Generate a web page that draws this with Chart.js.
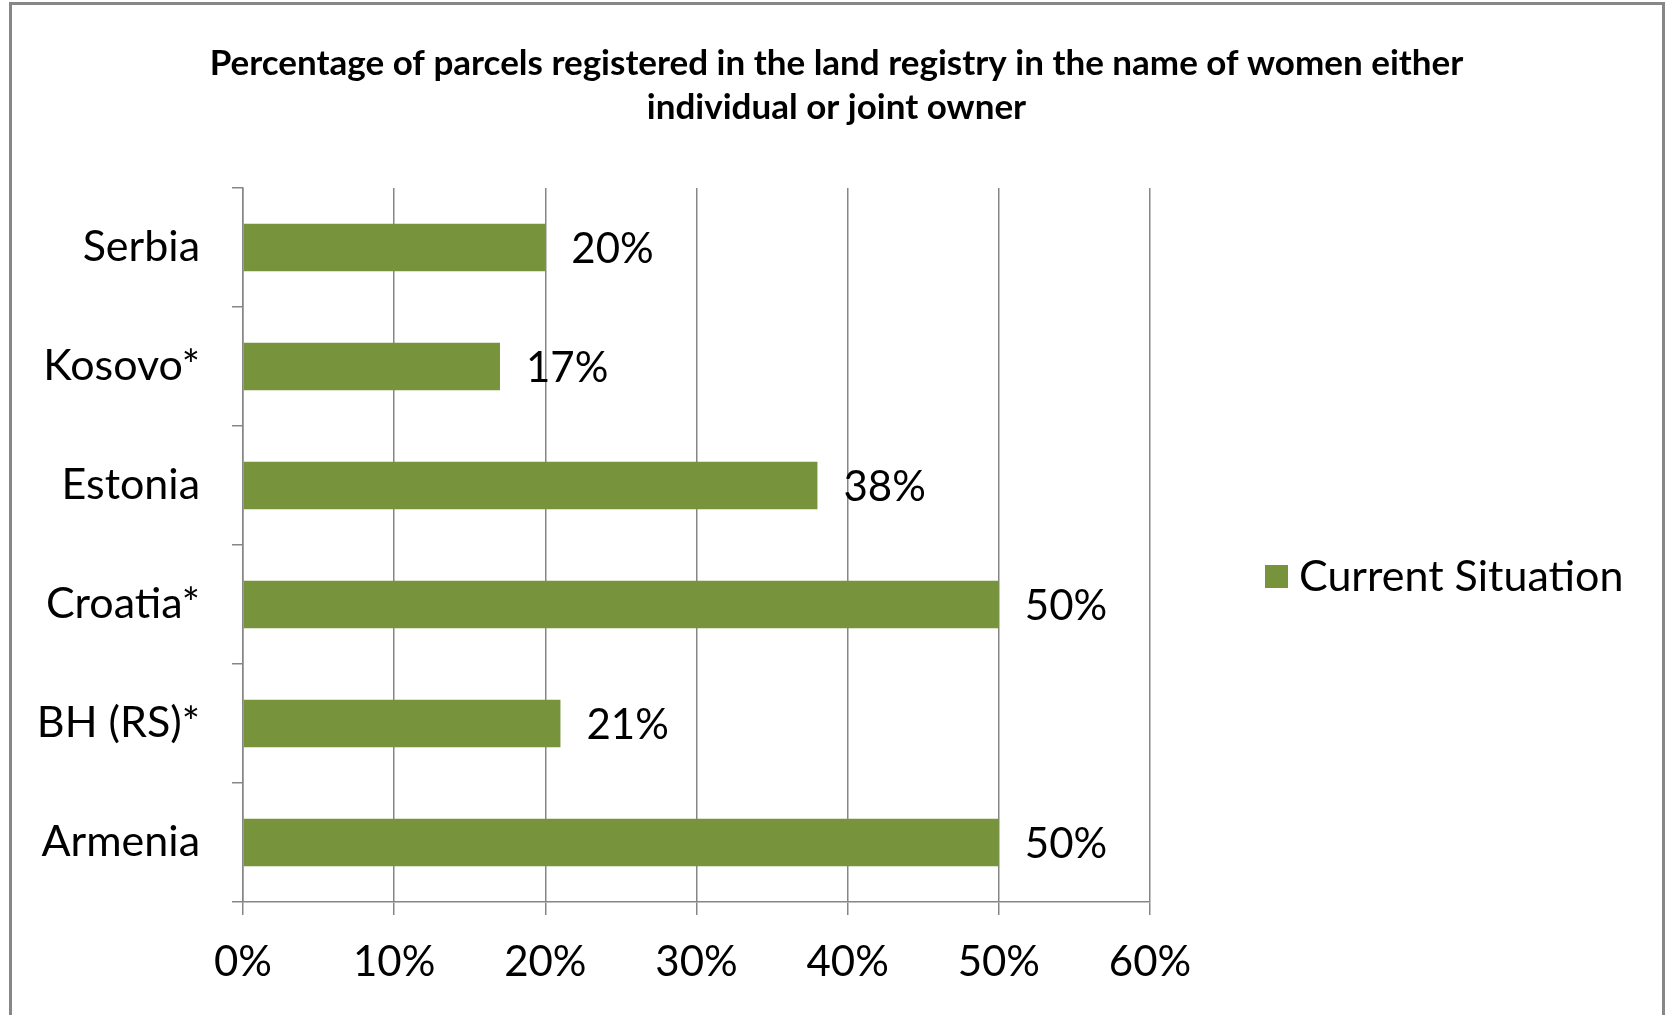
<!DOCTYPE html>
<html>
<head>
<meta charset="utf-8">
<script src="https://cdn.jsdelivr.net/npm/chart.js@4.4.0/dist/chart.umd.min.js"></script>
<style>
  html, body { margin: 0; padding: 0; background: #fff; overflow: hidden; }
  #frame { position: absolute; left: 9px; top: 2px; width: 1656px; height: 1100px; border: 3px solid #878787; box-sizing: border-box; }
  #wrap { position: absolute; left: 0; top: 0; width: 1673px; height: 1015px; }
</style>
</head>
<body>
<div id="frame"></div>
<div id="wrap"><canvas id="chart" width="1673" height="1015"></canvas></div>
<script>
const countries = ['Serbia', 'Kosovo*', 'Estonia', 'Croatia*', 'BH (RS)*', 'Armenia'];
const shares = [20, 17, 38, 50, 21, 50];
const xTicks = [0, 10, 20, 30, 40, 50, 60];
const seriesName = 'Current Situation';
const titleLines = ['Percentage of parcels registered in the land registry in the name of women either', 'individual or joint owner'];

const green = '#77933c';
const gridGray = '#868686';
const font = 'Lato';

// value labels at the end of each bar
const barLabels = {
    id: 'barLabels',
    afterDatasetsDraw(chart) {
        const ctx = chart.ctx;
        const meta = chart.getDatasetMeta(0);
        ctx.save();
        ctx.font = '42px ' + font;
        ctx.fillStyle = '#000';
        ctx.textAlign = 'left';
        ctx.textBaseline = 'middle';
        meta.data.forEach((bar, i) => {
            ctx.fillText(chart.data.datasets[0].data[i] + '%', bar.x + 26, bar.y + 2);
        });
        ctx.restore();
    }
};

// legend to the right of the plot
const sideLegend = {
    id: 'sideLegend',
    afterDraw(chart) {
        const ctx = chart.ctx;
        const ds = chart.data.datasets[0];
        const x = chart.chartArea.right + 115;
        const y = 576;
        ctx.save();
        ctx.fillStyle = ds.backgroundColor;
        ctx.fillRect(x, y - 11, 23, 23);
        ctx.font = '43px ' + font;
        ctx.fillStyle = '#000';
        ctx.textBaseline = 'middle';
        ctx.fillText(ds.label, x + 34, y + 1);
        ctx.restore();
    }
};

new Chart(document.getElementById('chart'), {
    type: 'bar',
    data: {
        labels: countries,
        datasets: [{
            label: seriesName,
            data: shares,
            backgroundColor: green,
            barPercentage: 0.4,
            categoryPercentage: 1
        }]
    },
    options: {
        indexAxis: 'y',
        responsive: false,
        animation: false,
        layout: { padding: 0 },
        plugins: {
            legend: { display: false },
            tooltip: { enabled: false },
            title: {
                display: true,
                text: titleLines,
                color: '#000',
                font: { family: font, size: 35, weight: 'bold', lineHeight: 1.257 },
                padding: { top: 42, bottom: 58 }
            }
        },
        scales: {
            x: {
                min: 0,
                max: 60,
                afterBuildTicks: s => { s.ticks = xTicks.map(v => ({ value: v })); },
                afterFit: s => { s.height = 113; },
                grid: { color: gridGray, lineWidth: 1.5, tickLength: 13, tickColor: gridGray },
                border: { display: true, color: gridGray, width: 1.5 },
                ticks: {
                    color: '#000',
                    padding: 22,
                    font: { family: font, size: 42 },
                    callback: v => v + '%'
                }
            },
            y: {
                afterFit: s => { s.width = 243; },
                grid: { drawOnChartArea: false, tickLength: 11, color: gridGray, lineWidth: 1.5 },
                border: { display: true, color: gridGray, width: 1.5 },
                ticks: {
                    color: '#000',
                    padding: 32,
                    font: { family: font, size: 43 }
                }
            },
            // empty axis that keeps the right side free for the legend
            side: {
                type: 'linear',
                axis: 'y',
                position: 'right',
                grid: { display: false },
                border: { display: false },
                ticks: { display: false },
                afterFit: s => { s.width = 523; }
            }
        }
    },
    plugins: [barLabels, sideLegend]
});
</script>
</body>
</html>
